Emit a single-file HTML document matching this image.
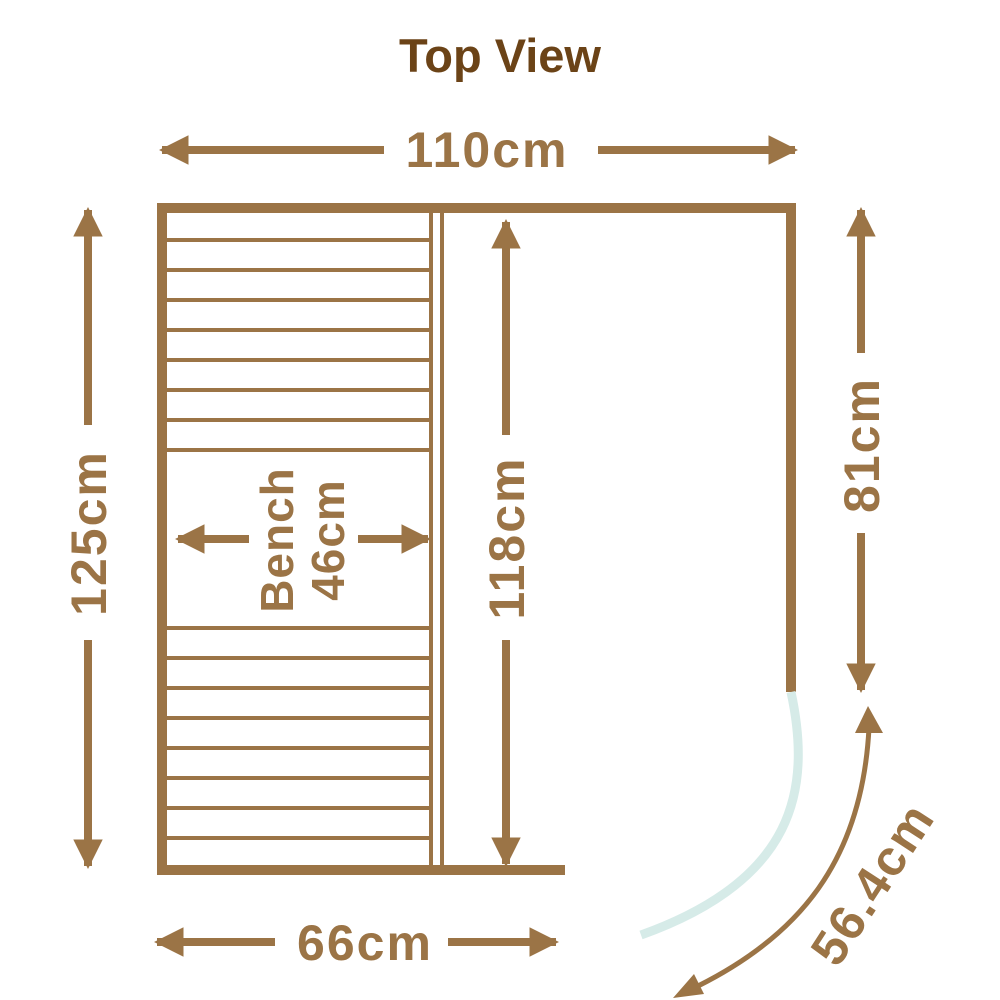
<!DOCTYPE html>
<html><head><meta charset="utf-8"><style>
html,body{margin:0;padding:0;background:#fff;}
svg{display:block}
text{font-family:"Liberation Sans",sans-serif;font-weight:bold;}
</style></head><body>
<svg width="1000" height="1000" viewBox="0 0 1000 1000" xmlns="http://www.w3.org/2000/svg">
<defs>
<marker id="ah" viewBox="0 0 10 10" refX="9" refY="5" markerWidth="3.7" markerHeight="3.7" markerUnits="strokeWidth" orient="auto-start-reverse">
<path d="M0,0 L10,5 L0,10 z" fill="#9b7446"/>
</marker>
</defs>
<text x="500" y="72" text-anchor="middle" font-size="47" fill="#6b4317">Top View</text>

<g fill="#9b7446">
<rect x="157" y="203" width="639" height="10"/>
<rect x="157" y="203" width="10" height="672"/>
<rect x="786" y="203" width="10" height="489"/>
<rect x="157" y="865" width="408" height="10"/>
<rect x="429" y="213" width="4" height="652"/>
<rect x="440" y="213" width="4" height="652"/>
</g>
<g stroke="#9b7446" stroke-width="4">
<line x1="167" y1="240" x2="430" y2="240"/>
<line x1="167" y1="270" x2="430" y2="270"/>
<line x1="167" y1="300" x2="430" y2="300"/>
<line x1="167" y1="330" x2="430" y2="330"/>
<line x1="167" y1="360" x2="430" y2="360"/>
<line x1="167" y1="390" x2="430" y2="390"/>
<line x1="167" y1="420" x2="430" y2="420"/>
<line x1="167" y1="450" x2="430" y2="450"/>
<line x1="167" y1="628" x2="430" y2="628"/>
<line x1="167" y1="658" x2="430" y2="658"/>
<line x1="167" y1="688" x2="430" y2="688"/>
<line x1="167" y1="718" x2="430" y2="718"/>
<line x1="167" y1="748" x2="430" y2="748"/>
<line x1="167" y1="778" x2="430" y2="778"/>
<line x1="167" y1="808" x2="430" y2="808"/>
<line x1="167" y1="838" x2="430" y2="838"/>
</g>

<path d="M791,692 C812,790 795,880 641,935" fill="none" stroke="#d6ebe8" stroke-width="9"/>

<g stroke="#9b7446" stroke-width="8" fill="none">
<line x1="384" y1="150" x2="162" y2="150" marker-end="url(#ah)"/>
<line x1="598" y1="150" x2="795" y2="150" marker-end="url(#ah)"/>
<line x1="88" y1="425" x2="88" y2="210" marker-end="url(#ah)"/>
<line x1="88" y1="640" x2="88" y2="866" marker-end="url(#ah)"/>
<line x1="506" y1="435" x2="506" y2="222" marker-end="url(#ah)"/>
<line x1="506" y1="640" x2="506" y2="864" marker-end="url(#ah)"/>
<line x1="861" y1="353" x2="861" y2="210" marker-end="url(#ah)"/>
<line x1="861" y1="533" x2="861" y2="690" marker-end="url(#ah)"/>
<line x1="275" y1="942" x2="157" y2="942" marker-end="url(#ah)"/>
<line x1="448" y1="942" x2="556" y2="942" marker-end="url(#ah)"/>
<line x1="249" y1="539" x2="178" y2="539" marker-end="url(#ah)"/>
<line x1="358" y1="539" x2="428" y2="539" marker-end="url(#ah)"/>
<path d="M869,728 C862,860 800,935 698,986" stroke-width="5"/>
</g>
<path d="M868,706 L883,733 L855,733 z" fill="#9b7446"/>
<path d="M673,998 L694,974 L704,994 z" fill="#9b7446"/>

<g fill="#9b7446" font-size="50" letter-spacing="2">
<text x="487" y="167" text-anchor="middle">110cm</text>
<text x="365" y="960" text-anchor="middle">66cm</text>
<text transform="translate(106,533) rotate(-90)" text-anchor="middle">125cm</text>
<text transform="translate(524,538) rotate(-90)" text-anchor="middle">118cm</text>
<text transform="translate(879,445) rotate(-90)" text-anchor="middle">81cm</text>
<text transform="translate(887,893) rotate(-57)" text-anchor="middle">56.4cm</text>
</g>
<g fill="#9b7446" font-size="46" letter-spacing="1">
<text transform="translate(293,540) rotate(-90)" text-anchor="middle">Bench</text>
<text transform="translate(344,540) rotate(-90)" text-anchor="middle">46cm</text>
</g>
</svg>
</body></html>
